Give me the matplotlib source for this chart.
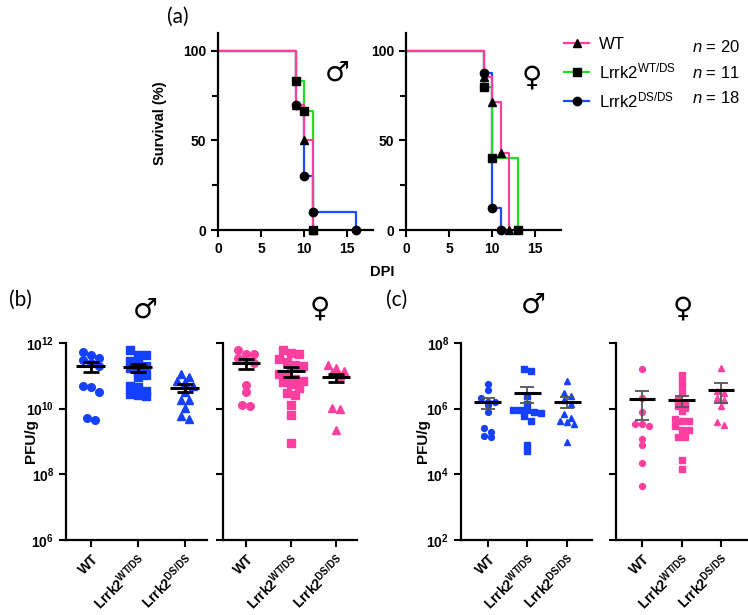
import matplotlib
matplotlib.use("Agg")
import matplotlib.pyplot as plt
from matplotlib.lines import Line2D
from matplotlib.ticker import NullLocator
import numpy as np

plt.rcParams['font.family'] = ['Liberation Sans', 'DejaVu Sans']
plt.rcParams['mathtext.fontset'] = 'custom'
plt.rcParams['mathtext.rm'] = 'Liberation Sans'
plt.rcParams['mathtext.it'] = 'Liberation Sans:italic'
plt.rcParams['mathtext.bf'] = 'Liberation Sans:bold'

# (a) survival curves, male
wt_m_days = [0, 9, 10, 11]
wt_m_surv = [100, 70, 50, 0]
het_m_days = [0, 9, 10, 11]
het_m_surv = [100, 83.3, 66.7, 0]
ds_m_days = [0, 9, 10, 11, 16]
ds_m_surv = [100, 70, 30, 10, 0]
# (a) survival curves, female
wt_f_days = [0, 9, 10, 11, 12]
wt_f_surv = [100, 85.7, 71.4, 42.9, 0]
het_f_days = [0, 9, 10, 13]
het_f_surv = [100, 80, 40, 0]
ds_f_days = [0, 9, 10, 11]
ds_f_surv = [100, 87.5, 12.5, 0]
n_mice = [20, 11, 18]

genotypes = ['WT', r'Lrrk2$^{\mathbf{WT/DS}}$', r'Lrrk2$^{\mathbf{DS/DS}}$']
legend_labels = ['WT', r'Lrrk2$^{\mathrm{WT/DS}}$', r'Lrrk2$^{\mathrm{DS/DS}}$']

# (b) PFU/g, male
b_m_wt = [5.5e11, 4.2e11, 3.5e11, 3.0e11, 2.5e11, 2.0e11, 4.8e10, 4.5e10, 3.2e10, 5.2e9, 4.4e9]
b_m_het = [6.2e11, 4.4e11, 4.2e11, 2.8e11, 2.6e11, 2.0e11, 1.7e11, 1.26e11, 1.07e11, 8.9e10,
           4.8e10, 4.5e10, 3.5e10, 2.8e10, 2.6e10, 2.5e10]
b_m_ds = [1.12e11, 9.5e10, 6.8e10, 6.3e10, 5.0e10, 3.2e10, 1.9e10, 1.9e10, 1.05e10, 5.9e9, 4.7e9]
b_m_mean = [2.0e11, 1.8e11, 4.4e10]
b_m_sem = [0.65e11, 0.45e11, 1.2e10]
# (b) PFU/g, female
b_f_wt = [6.2e11, 4.6e11, 4.6e11, 3.5e11, 3.2e11, 2.5e11, 5.4e10, 3.3e10, 1.3e10, 1.2e10]
b_f_het = [6.0e11, 5.0e11, 4.7e11, 3.2e11, 2.7e11, 2.2e11, 2.0e11, 1.8e11, 1.1e11, 1.0e11,
           7.9e10, 7.1e10, 6.3e10, 5.6e10, 4.2e10, 3.0e10, 2.6e10, 1.3e10, 6.3e9, 9.1e8]
b_f_ds = [2.1e11, 1.7e11, 1.4e11, 1.26e11, 1.0e11, 1.05e10, 1.0e10, 2.3e9]
b_f_mean = [2.4e11, 1.4e11, 9.0e10]
b_f_sem = [0.75e11, 0.45e11, 2.5e10]

# (c) PFU/g, male
c_m_wt = [5.8e6, 3.6e6, 2.1e6, 1.55e6, 1.55e6, 1.3e6, 7.8e5, 2.6e5, 2.0e5, 1.5e5, 1.4e5]
c_m_het = [1.6e7, 1.4e7, 2.5e6, 1.4e6, 9.3e5, 9.3e5, 8.9e5, 7.8e5, 7.4e5, 5.9e5, 4.2e5, 8.1e4, 5.1e4]
c_m_ds = [6.8e6, 3.1e6, 2.5e6, 1.8e6, 1.4e6, 7.1e5, 5.2e5, 4.2e5, 3.9e5, 3.3e5, 9.5e4]
c_m_mean = [1.55e6, 3.0e6, 1.65e6]
c_m_sem = [0.55e6, 1.5e6, 0.6e6]
# (c) PFU/g, female
c_f_wt = [1.6e7, 2.1e6, 7.8e5, 3.5e5, 3.3e5, 2.9e5, 1.2e5, 7.9e4, 2.2e4, 4.3e3]
c_f_het = [1.07e7, 7.2e6, 4.8e6, 3.1e6, 1.8e6, 1.5e6, 1.2e6, 1.05e6, 8.3e5, 4.9e5,
           4.2e5, 4.2e5, 3.0e5, 2.2e5, 2.2e5, 1.4e5, 1.4e5, 2.7e4, 1.5e4]
c_f_ds = [1.7e7, 3.5e6, 3.0e6, 2.1e6, 1.8e6, 1.2e6, 3.9e5, 3.1e5]
c_f_mean = [2.0e6, 1.8e6, 3.7e6]
c_f_sem = [1.55e6, 0.65e6, 2.2e6]

PINK = '#FF3F9F'
GREEN = '#22DD22'
BLUE = '#1A4BFF'
SC_BLUE = '#1440FF'

W, H = 748, 615
fig = plt.figure(figsize=(W / 100, H / 100), dpi=100)


def px_axes(left, top, width, height):
    return fig.add_axes([left / W, 1 - (top + height) / H, width / W, height / H])


def style_axes(ax):
    for s in ['top', 'right']:
        ax.spines[s].set_visible(False)
    for s in ['left', 'bottom']:
        ax.spines[s].set_linewidth(1.6)
    ax.tick_params(width=1.5, length=5, labelsize=10)
    for lab in ax.get_yticklabels() + ax.get_xticklabels():
        lab.set_fontweight('bold')


def survival(ax, curves):
    for days, surv, col, mk in curves:
        ax.step(days, surv, where='post', color=col, lw=1.6, zorder=2, clip_on=False)
    for days, surv, col, mk in curves:
        ax.plot(days[1:], surv[1:], ls='none', marker=mk, ms=6, color='black', zorder=3, clip_on=False)
    ax.set_xlim(0, 18)
    ax.set_ylim(0, 110)
    ax.set_xticks([0, 5, 10, 15])
    ax.set_yticks([0, 50, 100])
    ax.set_yticks([25, 75], minor=True)
    ax.tick_params(which='minor', width=1.5, length=4)
    style_axes(ax)


ax_am = px_axes(218, 33, 155, 197)
survival(ax_am, [(ds_m_days, ds_m_surv, BLUE, 'o'),
                 (het_m_days, het_m_surv, GREEN, 's'),
                 (wt_m_days, wt_m_surv, PINK, '^')])
ax_am.set_ylabel('Survival (%)', fontsize=10.5, fontweight='bold')
ax_am.yaxis.set_label_coords(-0.33, 0.54)

ax_af = px_axes(406, 33, 155, 197)
survival(ax_af, [(ds_f_days, ds_f_surv, BLUE, 'o'),
                 (het_f_days, het_f_surv, GREEN, 's'),
                 (wt_f_days, wt_f_surv, PINK, '^')])

fig.text(382 / W, 1 - 272 / H, 'DPI', fontsize=10.5, fontweight='bold', ha='center', va='center')

handles = [Line2D([], [], color=c, lw=1.6, marker=m, ms=6, mfc='black', mec='black')
           for c, m in [(PINK, '^'), (GREEN, 's'), (BLUE, 'o')]]
fig.legend(handles, legend_labels, loc='upper left', bbox_to_anchor=(564 / W, 1 - 37 / H),
           frameon=False, fontsize=12, handlelength=1.5, handletextpad=0.6,
           labelspacing=0.55, borderpad=0, borderaxespad=0)
for n, ypix in zip(n_mice, [47, 73, 98]):
    fig.text(692 / W, 1 - ypix / H, r'$\it{n}$ = %d' % n, fontsize=12, va='center')


def swarm(ax, xpos, vals, row_px, step_px):
    # group points into horizontal rows (in pixels) and spread each row around the column centre
    ys = ax.transData.transform(np.column_stack([np.full(len(vals), xpos), vals]))[:, 1]
    unit = ax.transData.transform([(1, 1)])[0, 0] - ax.transData.transform([(0, 1)])[0, 0]
    order = np.argsort(-ys)
    rows, cur = [], [order[0]]
    for i in order[1:]:
        if ys[cur[0]] - ys[i] < row_px:
            cur.append(i)
        else:
            rows.append(cur)
            cur = [i]
    rows.append(cur)
    offs = np.zeros(len(vals))
    for row in rows:
        for k, i in enumerate(row):
            offs[i] = (k - (len(row) - 1) / 2) * step_px
    return xpos + offs / unit


def scatter_panel(ax, groups, means, sems, color, ylo, yhi, labels_on, ms, row_px, step_px,
                  sem_col, sem_lw, cap, half):
    ax.set_yscale('log')
    ax.set_ylim(ylo, yhi)
    exps = range(int(np.log10(ylo)), int(np.log10(yhi)) + 1, 2)
    ax.set_yticks([10.0 ** e for e in exps])
    if labels_on:
        ax.set_yticklabels([r'$\mathbf{10^{%d}}$' % e for e in exps])
    else:
        ax.set_yticklabels([])
    ax.yaxis.set_minor_locator(NullLocator())
    ax.set_xticks(range(3))
    ax.set_xticklabels(genotypes, rotation=45, ha='right', rotation_mode='anchor', fontsize=10.5)
    style_axes(ax)
    for i, (vals, mk) in enumerate(zip(groups, ['o', 's', '^'])):
        xs = swarm(ax, i, vals, row_px, step_px)
        ax.plot(xs, vals, ls='none', marker=mk, ms=ms, color=color, mec=color, zorder=2, clip_on=False)
    ax.errorbar(range(3), means, yerr=sems, fmt='none', ecolor=sem_col, elinewidth=sem_lw,
                capsize=cap, capthick=sem_lw, zorder=3)
    ax.hlines(means, np.arange(3) - half, np.arange(3) + half, color='black', lw=2.2, zorder=4)


ax_bm = px_axes(66, 343, 141, 197)
ax_bm.set_xlim(-0.53, 2.47)
scatter_panel(ax_bm, [b_m_wt, b_m_het, b_m_ds], b_m_mean, b_m_sem, SC_BLUE, 1e6, 1e12, True,
              5.5, 7, 8, 'black', 2.0, 6, 0.31)
ax_bm.set_ylabel('PFU/g', fontsize=11, fontweight='bold')
ax_bm.yaxis.set_label_coords(-0.2, 0.5)

ax_bf = px_axes(223, 343, 134, 197)
ax_bf.set_xlim(-0.51, 2.47)
scatter_panel(ax_bf, [b_f_wt, b_f_het, b_f_ds], b_f_mean, b_f_sem, PINK, 1e6, 1e12, False,
              5.5, 7, 8, 'black', 2.0, 6, 0.31)

ax_cm = px_axes(461, 343, 131, 197)
ax_cm.set_xlim(-0.68, 2.63)
scatter_panel(ax_cm, [c_m_wt, c_m_het, c_m_ds], c_m_mean, c_m_sem, SC_BLUE, 1e2, 1e8, True,
              4.2, 5, 7, '#555555', 1.3, 5, 0.34)
ax_cm.set_ylabel('PFU/g', fontsize=11, fontweight='bold')
ax_cm.yaxis.set_label_coords(-0.24, 0.5)

ax_cf = px_axes(616, 343, 131, 197)
ax_cf.set_xlim(-0.66, 2.66)
scatter_panel(ax_cf, [c_f_wt, c_f_het, c_f_ds], c_f_mean, c_f_sem, PINK, 1e2, 1e8, False,
              4.2, 5, 7, '#555555', 1.3, 5, 0.34)

sym = dict(fontsize=20, ha='center', va='center', family=['DejaVu Sans'])
fig.text(337 / W, 1 - 73 / H, '\u2642', **sym)
fig.text(532 / W, 1 - 77 / H, '\u2640', **sym)
fig.text(145 / W, 1 - 310 / H, '\u2642', **sym)
fig.text(320 / W, 1 - 308 / H, '\u2640', **sym)
fig.text(533 / W, 1 - 305 / H, '\u2642', **sym)
fig.text(683 / W, 1 - 308 / H, '\u2640', **sym)

panel = dict(fontsize=15, ha='center', va='center', family=['Lato', 'DejaVu Sans'])
fig.text(178 / W, 1 - 17 / H, '(a)', **panel)
fig.text(20 / W, 1 - 300 / H, '(b)', **panel)
fig.text(397 / W, 1 - 300 / H, '(c)', **panel)

fig.savefig('out.png', dpi=100)
